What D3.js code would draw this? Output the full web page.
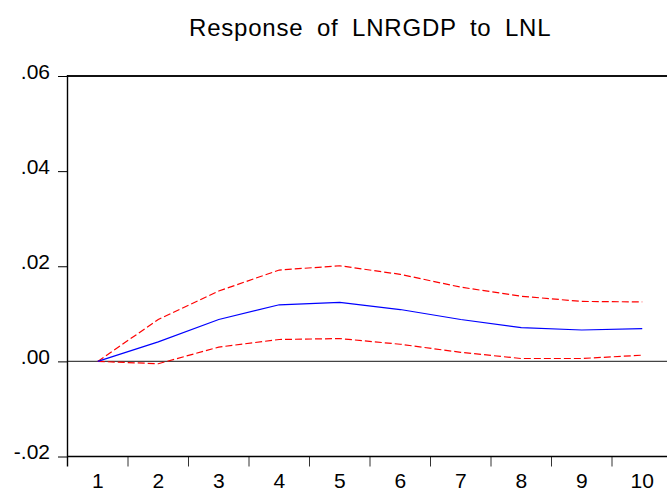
<!DOCTYPE html>
<html><head><meta charset="utf-8">
<script src="https://cdn.jsdelivr.net/npm/d3@7"></script>
<style>body{margin:0;background:#fff}svg{display:block}text{font-family:"Liberation Sans",Arial,sans-serif;fill:#000}</style>
</head><body><svg id="c" width="667" height="494"></svg>
<script>
const periods = [1,2,3,4,5,6,7,8,9,10];
const response = [0.0000,0.0041,0.0088,0.0119,0.0124,0.0109,0.0088,0.0071,0.0066,0.0069];
const upperBand = [0.0000,0.0088,0.0148,0.0192,0.0201,0.0183,0.0156,0.0137,0.0126,0.0125];
const lowerBand = [0.0000,-0.0005,0.0030,0.0046,0.0048,0.0036,0.0019,0.0006,0.0006,0.0013];
const yTicks = [-0.02,0.00,0.02,0.04,0.06];
const yTickLabels = ["-.02",".00",".02",".04",".06"];
const title = "Response of LNRGDP to LNL";

(function(){
const svg = d3.select("#c");
const pLeft = 67.5, pTop = 76, pBottom = 456.5, W = 667;
const x = d3.scaleLinear().domain([0.5,10.5]).range([pLeft, pLeft+605]);
const y = d3.scaleLinear().domain([-0.02,0.06]).range([pBottom, pTop]);

svg.append("text").attr("x",189).attr("y",36).attr("font-size",24)
  .style("letter-spacing","0.8px").style("word-spacing","6px").text(title);

// zero line
svg.append("line").attr("x1",pLeft).attr("x2",W).attr("y1",y(0)).attr("y2",y(0))
  .attr("stroke","#444").attr("stroke-width",1.4);

// y axis
const ya = d3.axisLeft(y).tickValues(yTicks).tickSize(9.5).tickPadding(8)
  .tickFormat((d,i)=>yTickLabels[i]);
const gy = svg.append("g").attr("transform",`translate(${pLeft},0)`).call(ya);
gy.select(".domain").remove();
gy.selectAll(".tick line").attr("stroke","#000");
gy.selectAll(".tick text").attr("font-size",21).attr("dy","0.1em")
  .style("font-family",'"Liberation Sans",Arial,sans-serif');

// x axis ticks at boundaries
const bounds = periods.slice(0,9).map(d=>d+0.5);
svg.selectAll(".xt").data(bounds).enter().append("line")
  .attr("x1",d=>x(d)).attr("x2",d=>x(d)).attr("y1",pBottom).attr("y2",pBottom+10)
  .attr("stroke","#333").attr("stroke-width",1);
svg.selectAll(".xl").data(periods).enter().append("text")
  .attr("x",d=>x(d)).attr("y",487.5).attr("text-anchor","middle").attr("font-size",21)
  .text(d=>d);

// frame
svg.append("line").attr("x1",pLeft).attr("x2",W).attr("y1",pTop).attr("y2",pTop)
  .attr("stroke","#111").attr("stroke-width",2);
svg.append("line").attr("x1",pLeft).attr("x2",W).attr("y1",pBottom).attr("y2",pBottom)
  .attr("stroke","#000").attr("stroke-width",1.4);
svg.append("line").attr("x1",pLeft).attr("x2",pLeft).attr("y1",pTop-1).attr("y2",pBottom+10)
  .attr("stroke","#000").attr("stroke-width",1.4);

const line = d3.line().x((d,i)=>x(periods[i])).y(d=>y(d));
svg.append("path").attr("d",line(upperBand)).attr("fill","none").attr("stroke","#ff0000")
  .attr("stroke-width",1.2).attr("stroke-dasharray","7,3");
svg.append("path").attr("d",line(lowerBand)).attr("fill","none").attr("stroke","#ff0000")
  .attr("stroke-width",1.2).attr("stroke-dasharray","7,3");
svg.append("path").attr("d",line(response)).attr("fill","none").attr("stroke","#0000ff")
  .attr("stroke-width",1.2);
})();
</script></body></html>
